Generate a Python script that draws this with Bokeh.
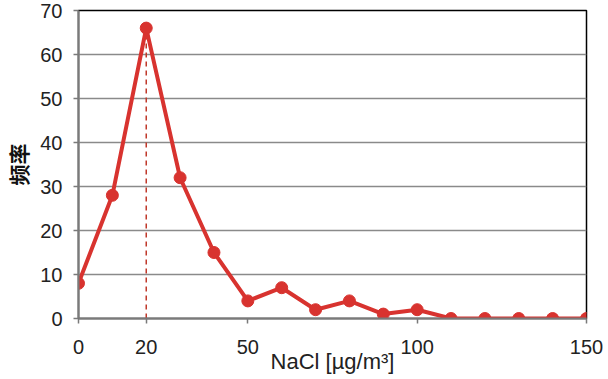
from bokeh.plotting import figure
from bokeh.models import FixedTicker, Range1d
from bokeh.embed import file_html
from bokeh.resources import INLINE

nacl = [0, 10, 20, 30, 40, 50, 60, 70, 80, 90, 100, 110, 120, 130, 140, 150]
freq = [8, 28, 66, 32, 15, 4, 7, 2, 4, 1, 2, 0, 0, 0, 0, 0]
x_ticks = [0, 20, 50, 100, 150]
y_ticks = [0, 10, 20, 30, 40, 50, 60, 70]
peak_x = 20
peak_y = 66

p = figure(width=606, height=377, output_backend="svg", toolbar_location=None,
           x_range=Range1d(0, 150), y_range=Range1d(0, 70),
           min_border_left=78, min_border_right=20, min_border_top=10, min_border_bottom=59)
p.background_fill_color = "white"
p.border_fill_color = "white"
p.outline_line_color = "black"
p.outline_line_width = 1.5

p.xgrid.grid_line_color = None
p.ygrid.grid_line_color = "#8a8a8a"
p.ygrid.grid_line_width = 1.3
p.ygrid.ticker = FixedTicker(ticks=y_ticks)

font = "Liberation Sans"
p.xaxis.ticker = FixedTicker(ticks=x_ticks)
p.yaxis.ticker = FixedTicker(ticks=y_ticks)
for ax in (p.xaxis[0], p.yaxis[0]):
    ax.axis_line_color = "#7a7a7a"
    ax.axis_line_width = 2
    ax.major_tick_line_color = "#7a7a7a"
    ax.major_tick_line_width = 1.5
    ax.major_tick_out = 5
    ax.major_tick_in = 0
    ax.minor_tick_line_color = None
    ax.major_label_text_font = font
    ax.major_label_text_font_size = "20px"
    ax.major_label_text_color = "#222222"

p.xaxis.major_label_standoff = 16
p.yaxis.major_label_standoff = 11

p.xaxis.axis_label = "NaCl [µg/m³]"
p.xaxis.axis_label_text_font = font
p.xaxis.axis_label_text_font_style = "normal"
p.xaxis.axis_label_text_font_size = "22px"
p.xaxis.axis_label_text_color = "#222222"
p.xaxis.axis_label_standoff = -8

p.yaxis.axis_label = "频率"
p.yaxis.axis_label_text_font = "Noto Sans CJK SC"
p.yaxis.axis_label_text_font_style = "bold"
p.yaxis.axis_label_text_font_size = "21px"
p.yaxis.axis_label_text_color = "#111111"
p.yaxis.axis_label_standoff = 4

p.segment(x0=[peak_x], y0=[0], x1=[peak_x], y1=[peak_y], line_color="#c0392b",
          line_width=1.5, line_dash="5 4")

p.line(nacl, freq, line_color="#d8332f", line_width=4)
p.scatter(nacl, freq, size=12, fill_color="#d8332f", line_color="#d8332f")

open("out.html", "w").write(file_html(p, INLINE))
